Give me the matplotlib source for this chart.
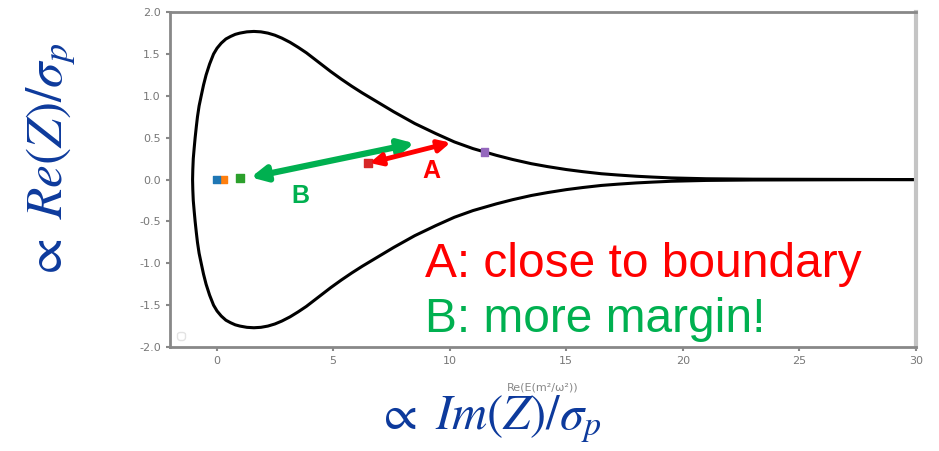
import matplotlib.pyplot as plt
import numpy as np

# upper branch of the stability boundary (lower one is its mirror)
edge_x = [-1.03, -1.02, -1.00, -0.96, -0.92, -0.87, -0.82, -0.75, -0.66, -0.56, -0.45,
          -0.30, -0.13, 0.02, 0.2, 0.4, 0.6, 0.8, 1.0, 1.3, 1.6, 1.9, 2.2, 2.5, 2.8,
          3.15, 3.5, 3.85, 4.2, 4.55, 4.9, 5.35, 5.8, 6.25, 6.7, 7.15, 7.6, 8.05, 8.5,
          8.95, 9.4, 9.8, 10.2, 10.6, 11.0, 11.5, 12.0, 12.7, 13.5, 14.2, 15.0, 15.7,
          16.5, 17.2, 18.0, 18.7, 19.5, 21.0, 23.0, 30.0]
edge_y = [0.00, 0.12, 0.25, 0.38, 0.50, 0.63, 0.75, 0.88, 1.00, 1.13, 1.25,
          1.38, 1.50, 1.57, 1.63, 1.68, 1.71, 1.735, 1.75, 1.765, 1.77, 1.765, 1.75, 1.725, 1.69,
          1.64, 1.58, 1.515, 1.44, 1.365, 1.29, 1.20, 1.115, 1.035, 0.96, 0.885, 0.81, 0.74, 0.67,
          0.61, 0.55, 0.50, 0.45, 0.41, 0.37, 0.33, 0.29, 0.24, 0.19, 0.155, 0.12, 0.095,
          0.07, 0.055, 0.04, 0.03, 0.02, 0.01, 0.005, 0.0]

# working points
pt_x = [0.0, 0.3, 1.0, 6.5, 11.5]
pt_y = [0.0, 0.0, 0.02, 0.2, 0.33]
pt_col = ['C0', 'C1', 'C2', 'C3', 'C4']

# arrows: (start, end)
arrow_A = [(6.45, 0.19), (10.15, 0.45)]
arrow_B = [(1.35, 0.02), (8.6, 0.44)]

xticks = [0, 5, 10, 15, 20, 25, 30]
yticks = [-2.0, -1.5, -1.0, -0.5, 0.0, 0.5, 1.0, 1.5, 2.0]

plt.rcParams['mathtext.fontset'] = 'stix'

fig = plt.figure(figsize=(9.39, 4.51), dpi=100)
ax = fig.add_axes([0.181, 0.2306, 0.7945, 0.7424])

ex = np.array(edge_x)
ey = np.array(edge_y)
ax.plot(np.concatenate([ex[::-1], ex]), np.concatenate([ey[::-1], -ey]), color='black', lw=2.2,
        solid_joinstyle='round')

ax.scatter(pt_x[::-1], pt_y[::-1], c=pt_col[::-1], marker='s', s=30, zorder=3)

ax.set_xlim(-2, 30)
ax.set_ylim(-2, 2)
ax.set_xticks(xticks)
ax.set_yticks(yticks)
ax.set_xticklabels([str(t) for t in xticks])
ax.set_yticklabels(['%.1f' % t for t in yticks])
ax.tick_params(colors='#888888', labelcolor='#777777', labelsize=8, length=3, width=1.5)
for s in ['left', 'bottom', 'top']:
    ax.spines[s].set_color('#888888')
    ax.spines[s].set_linewidth(2)
ax.spines['right'].set_color('#c4c4c4')
ax.spines['right'].set_linewidth(3)
ax.set_xlabel('Re(E(m²/ω²))', fontsize=8, color='#888888', labelpad=12)

leg = ax.legend(handles=[], loc='lower left', frameon=True, borderpad=0.3)
leg.get_frame().set_edgecolor('#dddddd')

# annotation arrows
ax.annotate('', xy=arrow_B[0], xytext=arrow_B[1],
            arrowprops=dict(arrowstyle='<|-|>,head_length=0.9,head_width=0.45', color='#00B050', lw=4.5))
ax.annotate('', xy=arrow_A[0], xytext=arrow_A[1],
            arrowprops=dict(arrowstyle='<|-|>,head_length=0.7,head_width=0.35', color='#FF0000', lw=3.5))
ax.text(9.2, 0.1, 'A', color='#FF0000', fontsize=18, fontweight='bold',
        family='Liberation Sans', ha='center', va='center')
ax.text(3.6, -0.2, 'B', color='#00B050', fontsize=18, fontweight='bold',
        family='Liberation Sans', ha='center', va='center')

fig.text(0.4526, 0.386, 'A: close to boundary', color='#FF0000', fontsize=34.5,
         family='Liberation Sans', va='baseline')
fig.text(0.4526, 0.264, 'B: more margin!', color='#00B050', fontsize=34.5,
         family='Liberation Sans', va='baseline')

fig.text(0.055, 0.64, r'$\propto\ Re(Z)/\sigma_p$', color='#0D3A9C', fontsize=37,
         rotation=90, ha='center', va='center')
fig.text(0.52, 0.07, r'$\propto\ Im(Z)/\sigma_p$', color='#0D3A9C', fontsize=35,
         ha='center', va='center')

fig.savefig('out.png', dpi=100)
